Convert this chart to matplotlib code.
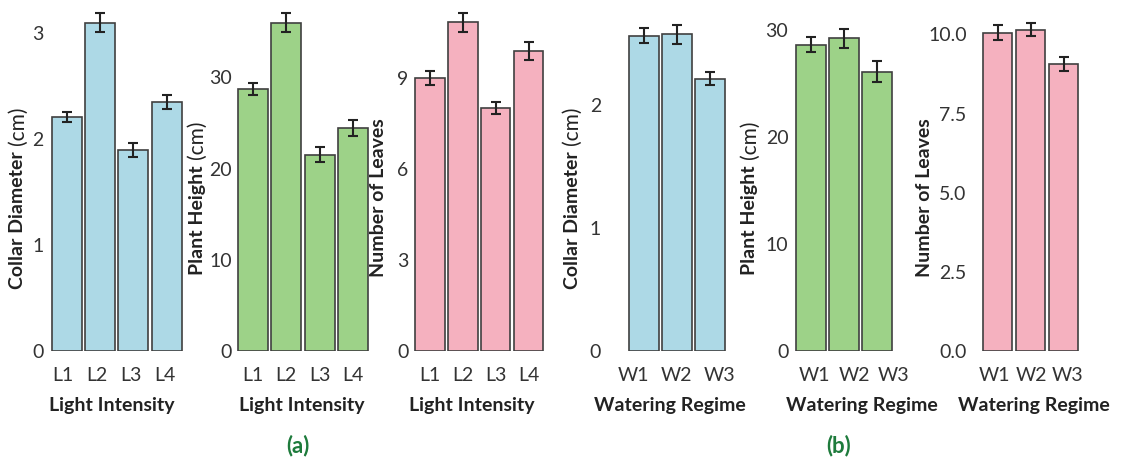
import matplotlib.pyplot as plt
import numpy as np

plt.rcParams['font.family'] = ['Lato', 'DejaVu Sans']

# light intensity data (a)
light_levels = ['L1', 'L2', 'L3', 'L4']
light_diam = [2.21, 3.10, 1.90, 2.35]
light_diam_err = [0.047, 0.09, 0.068, 0.07]
light_height = [28.7, 36.0, 21.5, 24.5]
light_height_err = [0.68, 1.04, 0.82, 0.88]
light_leaves = [9.0, 10.82, 8.0, 9.87]
light_leaves_err = [0.23, 0.31, 0.19, 0.29]

# watering regime data (b)
water_levels = ['W1', 'W2', 'W3']
water_diam = [2.56, 2.57, 2.21]
water_diam_err = [0.061, 0.077, 0.054]
water_height = [28.6, 29.2, 26.1]
water_height_err = [0.70, 0.86, 1.01]
water_leaves = [10.06, 10.15, 9.07]
water_leaves_err = [0.24, 0.21, 0.23]

blue = '#ADD9E6'
green = '#9DD288'
pink = '#F5B1BF'

W, H = 1122, 457
fig = plt.figure(figsize=(W / 100, H / 100), dpi=100)
renderer = fig.canvas.get_renderer()

panels = [
    dict(cats=light_levels, vals=light_diam, errs=light_diam_err, color=blue, ylab=('Collar Diameter', '(cm)'),
         ytop=3.315, yticks=[0, 1, 2, 3], xlab='Light Intensity'),
    dict(cats=light_levels, vals=light_height, errs=light_height_err, color=green, ylab=('Plant Height', '(cm)'),
         ytop=38.5, yticks=[0, 10, 20, 30], xlab='Light Intensity'),
    dict(cats=light_levels, vals=light_leaves, errs=light_leaves_err, color=pink, ylab=('Number of Leaves', ''),
         ytop=11.56, yticks=[0, 3, 6, 9], xlab='Light Intensity'),
    dict(cats=water_levels, vals=water_diam, errs=water_diam_err, color=blue, ylab=('Collar Diameter', '(cm)'),
         ytop=2.85, yticks=[0, 1, 2], xlab='Watering Regime'),
    dict(cats=water_levels, vals=water_height, errs=water_height_err, color=green, ylab=('Plant Height', '(cm)'),
         ytop=32.8, yticks=[0, 10, 20, 30], xlab='Watering Regime'),
    dict(cats=water_levels, vals=water_leaves, errs=water_leaves_err, color=pink, ylab=('Number of Leaves', ''),
         ytop=11.09, yticks=[0.0, 2.5, 5.0, 7.5, 10.0], xlab='Watering Regime'),
]

# layout in pixels: axes left/right, ytick pad, ylabel x, xlabel x, tick spread/shift
layout = [
    (46.7, 186.7, 3.4, 17.5, 112, 1.02, -0.12),
    (232.7, 373.3, 1.0, 197, 302, 1.00, 0.0),
    (410, 548.3, 1.7, 378, 471.7, 1.00, 0.0),
    (624, 730, 23, 572, 670, 1.30, -0.32),
    (791, 896.7, 2.7, 750, 861.7, 1.19, 0.12),
    (977.7, 1083.3, 11, 925, 1034, 1.10, -0.08),
]


def mixed_ylabel(bold_part, normal_part, x_px, y_px):
    # vertical label, bold words followed by regular units
    kw = dict(rotation=90, rotation_mode='anchor', ha='left', va='center', color='#222222')
    t1 = fig.text(0, 0, bold_part, fontweight='bold', fontsize=14, **kw)
    len1 = t1.get_window_extent(renderer).height
    len2 = 0
    gap = 0
    if normal_part:
        t2 = fig.text(0, 0, normal_part, fontsize=15, **kw)
        len2 = t2.get_window_extent(renderer).height
        gap = 6
    start = y_px + (len1 + gap + len2) / 2  # bottom end in image pixels
    t1.set_position((x_px / W, 1 - start / H))
    if normal_part:
        t2.set_position((x_px / W, 1 - (start - len1 - gap) / H))


bottom_px = 350.7
for p, (left, right, ypad, ylab_x, xlab_x, spread, shift) in zip(panels, layout):
    ax = fig.add_axes([left / W, 1 - bottom_px / H, (right - left) / W, bottom_px / H])
    n = len(p['cats'])
    x = np.arange(n)
    ax.bar(x, p['vals'], width=0.9, color=p['color'], edgecolor='#404040', linewidth=1.2)
    ax.errorbar(x, p['vals'], yerr=p['errs'], fmt='none', ecolor='#222222',
                elinewidth=1.5, capsize=3.6, capthick=1.5)
    ax.set_xlim(-0.6, n - 0.4)
    ax.set_ylim(0, p['ytop'])
    ax.set_yticks(p['yticks'])
    if isinstance(p['yticks'][1], float):
        ax.set_yticklabels([f'{t:.1f}' for t in p['yticks']])
    ax.set_xticks(x * spread + shift)
    ax.set_xticklabels(p['cats'])
    for s in ax.spines.values():
        s.set_visible(False)
    ax.tick_params(length=0, labelsize=14, labelcolor='#333333')
    ax.tick_params(axis='y', pad=ypad * 0.72)
    ax.tick_params(axis='x', pad=11.5)
    ax.set_xlabel(p['xlab'], fontsize=14, fontweight='bold', color='#222222', va='center')
    ax.xaxis.set_label_coords(xlab_x / W, 1 - 405 / H, transform=fig.transFigure)
    mixed_ylabel(p['ylab'][0], p['ylab'][1], ylab_x, 198)

fig.text(297.5 / W, 1 - 446 / H, '(a)', fontsize=16, fontweight='bold', color='#1E7B3C', ha='center', va='center')
fig.text(838.5 / W, 1 - 446 / H, '(b)', fontsize=16, fontweight='bold', color='#1E7B3C', ha='center', va='center')

fig.savefig('out.png', dpi=100)
